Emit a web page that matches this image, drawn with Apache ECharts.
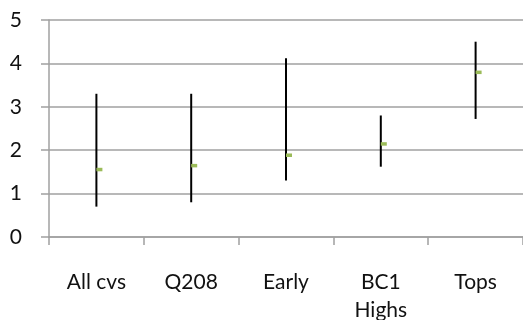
<!DOCTYPE html>
<html>
<head>
<meta charset="utf-8">
<script src="https://cdn.jsdelivr.net/npm/echarts@6/dist/echarts.min.js"></script>
<style>
  html, body { margin: 0; padding: 0; background: #fff; }
  #chart { width: 523px; height: 320px; }
</style>
</head>
<body>
<div id="chart"></div>
<script>
// Range and average per group
const categories = ['All cvs', 'Q208', 'Early', 'BC1\nHighs', 'Tops'];
const highValues = [3.3, 3.3, 4.12, 2.8, 4.5];
const lowValues = [0.7, 0.8, 1.3, 1.62, 2.72];
const meanValues = [1.56, 1.65, 1.89, 2.15, 3.8];

const rows = categories.map((c, i) => [i, lowValues[i], highValues[i], meanValues[i]]);

const chart = echarts.init(document.getElementById('chart'));
chart.setOption({
  animation: false,
  grid: { left: 49, right: 0, top: 20, bottom: 83, outerBoundsMode: 'none', containLabel: false },
  xAxis: {
    type: 'category',
    data: categories,
    boundaryGap: true,
    axisLine: { lineStyle: { color: '#a0a0a0', width: 1.5 } },
    axisTick: { show: true, length: 8, lineStyle: { color: '#a0a0a0', width: 1.5 } },
    axisLabel: {
      color: '#111', fontFamily: 'Lato', fontSize: 21,
      margin: 31, lineHeight: 28, interval: 0
    },
    splitLine: { show: false }
  },
  yAxis: {
    type: 'value',
    min: 0, max: 5, interval: 1,
    axisLine: { show: true, lineStyle: { color: '#a0a0a0', width: 1.5 } },
    axisTick: { show: true, length: 8, lineStyle: { color: '#a0a0a0', width: 1.5 } },
    axisLabel: {
      color: '#111', fontFamily: 'Lato', fontSize: 21, margin: 27,
      padding: [6, 0, 0, 0]
    },
    splitLine: { lineStyle: { color: '#a0a0a0', width: 1.5 } }
  },
  series: [{
    type: 'custom',
    data: rows,
    encode: { x: 0, y: [1, 2, 3] },
    renderItem: function (params, api) {
      const x = api.value(0);
      const low = api.coord([x, api.value(1)]);
      const high = api.coord([x, api.value(2)]);
      const mean = api.coord([x, api.value(3)]);
      return {
        type: 'group',
        children: [
          {
            type: 'line',
            shape: { x1: low[0], y1: low[1], x2: high[0], y2: high[1] },
            style: { stroke: '#000', lineWidth: 2 }
          },
          {
            type: 'rect',
            shape: { x: mean[0], y: mean[1] - 1.5, width: 6, height: 3.5 },
            style: { fill: '#9bbb59' }
          }
        ]
      };
    }
  }]
});
</script>
</body>
</html>
